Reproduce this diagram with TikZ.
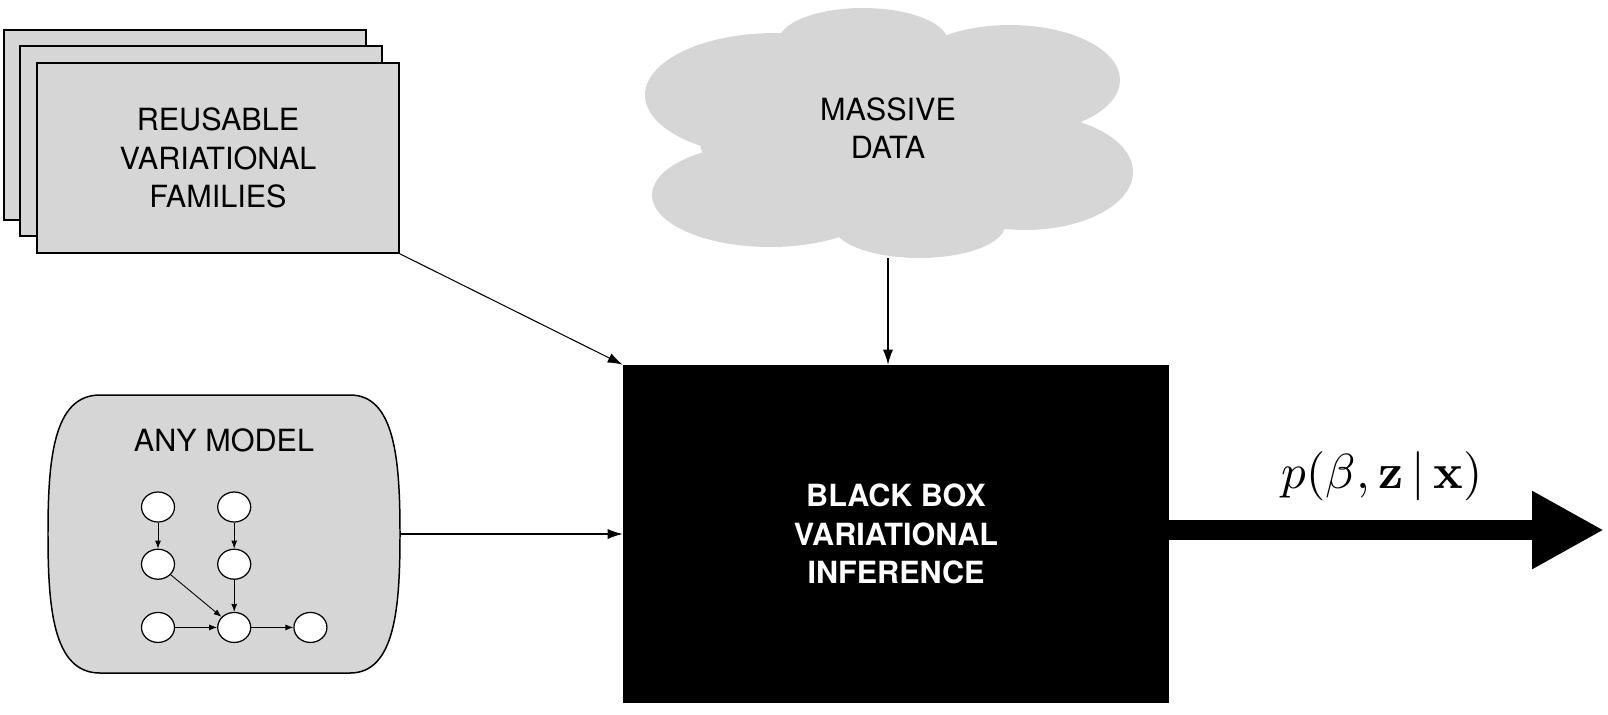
\documentclass[tikz,border=0pt]{standalone}
\usepackage[no-math]{fontspec}
\newfontfamily\helv{TeX Gyre Heros}
\usepackage{xcolor}
\usepackage{tikz}
\usetikzlibrary{arrows.meta,positioning,shapes.geometric}
\definecolor{boxgray}{RGB}{214,214,214}
\newcommand{\boxfont}{\helv\fontsize{17.4}{21.9}\selectfont}

\begin{document}
\begin{tikzpicture}[x=0.02cm,y=-0.02cm,
  node distance=5.2mm and 8.4mm,
  famsbox/.style={draw,fill=boxgray,line width=0.85pt,minimum width=7.24cm,minimum height=3.8cm,align=center,font=\boxfont},
  blackbox/.style={fill=black,text=white,minimum width=10.92cm,minimum height=6.76cm,align=center,font=\boxfont\bfseries},
  gnode/.style={ellipse,draw,fill=white,line width=0.7pt,minimum width=6.6mm,minimum height=6mm,inner sep=0pt},
  arr/.style={-{Latex[length=3mm,width=2mm]},line width=0.6pt},
  garr/.style={-{Latex[length=1.6mm,width=1.2mm]},line width=0.5pt},
  bigarr/.style={-{Triangle[length=14.4mm,width=14.6mm]},line width=4mm}
]
\useasboundingbox (0,0) rectangle (1608,714);

% cloud
\fill[boxgray] (863,42) ellipse [x radius=1.7cm,y radius=0.68cm]
  (775,95) ellipse [x radius=2.6cm,y radius=1.24cm]
  (770,195) ellipse [x radius=2.36cm,y radius=1.04cm]
  (919,225) ellipse [x radius=1.72cm,y radius=0.66cm]
  (1010,80) ellipse [x radius=2.2cm,y radius=1.1cm]
  (1025,172) ellipse [x radius=2.16cm,y radius=1.16cm]
  (890,140) ellipse [x radius=3.8cm,y radius=1.7cm];
\node[align=center,font=\boxfont,minimum height=5.2cm] (data) at (888,128) {MASSIVE\\DATA};

% stacked families
\node[famsbox] (famback) at (185,125) {};
\node[famsbox] (fammid) at (201,141) {};
\node[famsbox] (families) at (218,158) {REUSABLE\\VARIATIONAL\\FAMILIES};

% model
\draw[fill=boxgray,line width=0.85pt] (100,395) -- (350,395)
  .. controls (395,395) and (400,460) .. (400,534)
  .. controls (400,608) and (395,673) .. (350,673) -- (100,673)
  .. controls (53,673) and (48,608) .. (48,534)
  .. controls (48,460) and (53,395) .. cycle;
\node[minimum width=7.04cm,minimum height=5.56cm] (model) at (224,534) {};
\node[font=\boxfont] (modeltitle) at (224,440) {ANY MODEL};

\node[gnode] (a1) at (158,507) {};
\node[gnode,right=of a1] (b1) {};
\node[gnode,below=of a1] (a2) {};
\node[gnode,below=of b1] (b2) {};
\node[gnode,below=6.4mm of a2] (a3) {};
\node[gnode,right=of a3] (b3) {};
\node[gnode,right=of b3] (c3) {};
\draw[garr] (a1) -- (a2);
\draw[garr] (b1) -- (b2);
\draw[garr] (a2) -- (b3);
\draw[garr] (b2) -- (b3);
\draw[garr] (a3) -- (b3);
\draw[garr] (b3) -- (c3);

% inference
\node[blackbox] (bbvi) at (896,534) {BLACK BOX\\VARIATIONAL\\INFERENCE};

\draw[arr] (families.south east) -- (bbvi.north west);
\draw[arr] (data.south) -- (data.south |- bbvi.north);
\draw[arr] (model.east) -- (bbvi.west);

\coordinate (out) at (1604,530);
\draw[bigarr] (bbvi.east |- out) -- (out);
\node[scale=2.8] (post) at (1382,476) {$p(\beta,\mathbf{z}\,|\,\mathbf{x})$};
\end{tikzpicture}
\end{document}
